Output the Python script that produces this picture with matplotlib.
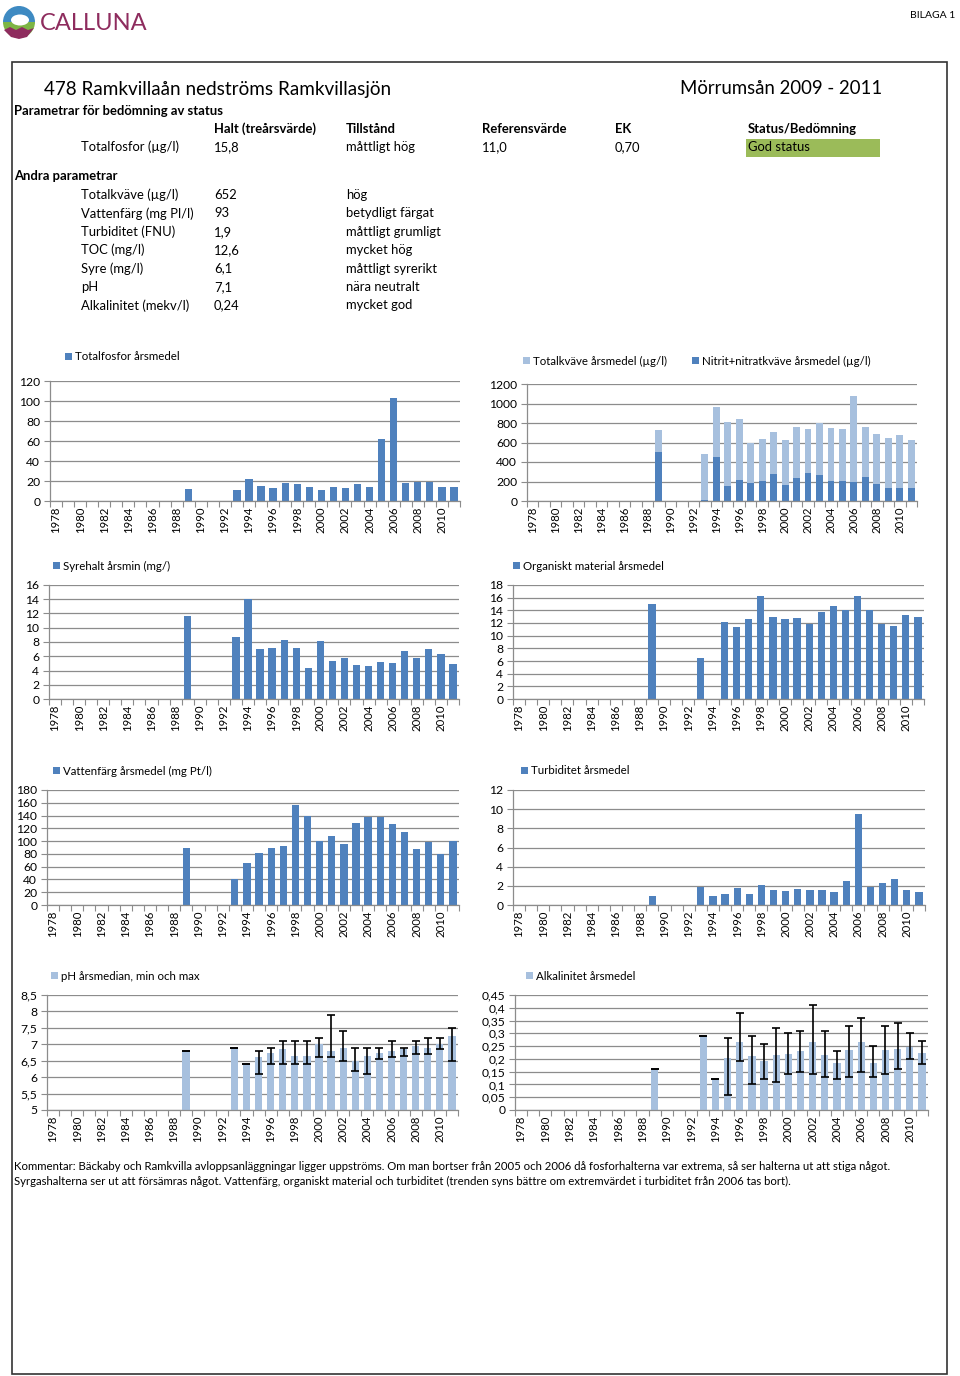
import matplotlib
matplotlib.use('Agg')
import matplotlib.pyplot as plt
import numpy as np
from matplotlib.patches import Rectangle, Wedge, Ellipse, Polygon

plt.rcParams['font.family'] = ['Lato', 'DejaVu Sans']

# ---------------- data ----------------
all_years = list(range(1978, 2012))
tick_years = all_years[::2]

years = [1989, 1993, 1994, 1995, 1996, 1997, 1998, 1999, 2000, 2001,
         2002, 2003, 2004, 2005, 2006, 2007, 2008, 2009, 2010, 2011]

totp = [12, 11, 22, 15, 13, 18, 17, 14, 11, 14.5,
        13, 17, 14.5, 62, 103, 18, 19.5, 19, 14.5, 14.5]

totn = [730, 480, 965, 810, 845, 600, 635, 710, 625, 760,
        740, 805, 750, 735, 1075, 760, 690, 645, 680, 625]
no3n = [500, 10, 450, 150, 220, 185, 205, 275, 160, 235,
        290, 270, 205, 205, 190, 245, 170, 135, 130, 135]

syre = [11.7, 8.7, 14.0, 7.0, 7.2, 8.3, 7.1, 4.3, 8.1, 5.4,
        5.8, 4.8, 4.6, 5.2, 5.0, 6.7, 5.7, 7.0, 6.3, 4.9]

org_years = [1989, 1993, 1995, 1996, 1997, 1998, 1999, 2000, 2001, 2002,
             2003, 2004, 2005, 2006, 2007, 2008, 2009, 2010, 2011]
org = [15.0, 6.5, 12.2, 11.3, 12.7, 16.3, 13.0, 12.7, 12.8, 11.9,
       13.7, 14.7, 14.0, 16.2, 14.0, 11.9, 11.5, 13.2, 13.0]

farg = [90, 40, 65, 82, 90, 93, 157, 140, 100, 108,
        96, 128, 138, 137, 127, 115, 88, 98, 80, 100]

turb = [0.9, 1.9, 0.9, 1.2, 1.8, 1.15, 2.1, 1.6, 1.5, 1.7,
        1.55, 1.55, 1.4, 2.5, 9.5, 1.85, 2.3, 2.75, 1.55, 1.35]

ph_med = [6.8, 6.9, 6.4, 6.6, 6.75, 6.85, 6.65, 6.65, 7.0, 6.8,
          6.9, 6.5, 6.65, 6.75, 6.8, 6.85, 6.95, 6.9, 7.0, 7.25]
ph_min = [6.8, 6.9, 6.4, 6.1, 6.4, 6.4, 6.4, 6.4, 6.6, 6.6,
          6.5, 6.2, 6.1, 6.55, 6.6, 6.65, 6.7, 6.7, 6.85, 6.5]
ph_max = [6.8, 6.9, 6.4, 6.8, 6.9, 7.1, 7.1, 7.1, 7.2, 7.9,
          7.4, 6.9, 6.9, 6.9, 7.1, 6.9, 7.1, 7.2, 7.2, 7.5]

alk_med = [0.16, 0.29, 0.12, 0.205, 0.265, 0.21, 0.19, 0.215, 0.22, 0.23,
           0.265, 0.215, 0.185, 0.235, 0.265, 0.185, 0.235, 0.24, 0.245, 0.225]
alk_min = [0.16, 0.29, 0.12, 0.06, 0.19, 0.10, 0.12, 0.11, 0.14, 0.15,
           0.14, 0.13, 0.12, 0.13, 0.15, 0.13, 0.14, 0.16, 0.20, 0.18]
alk_max = [0.16, 0.29, 0.12, 0.28, 0.38, 0.29, 0.26, 0.32, 0.30, 0.31,
           0.41, 0.31, 0.23, 0.33, 0.36, 0.25, 0.33, 0.34, 0.30, 0.27]

# table text
status_header = ["Halt (treårsvärde)", "Tillstånd", "Referensvärde", "EK", "Status/Bedömning"]
status_row = ["Totalfosfor (µg/l)", "15,8", "måttligt hög", "11,0", "0,70", "God status"]
other_params = ["Totalkväve (µg/l)", "Vattenfärg (mg Pl/l)", "Turbiditet (FNU)", "TOC (mg/l)",
                "Syre (mg/l)", "pH", "Alkalinitet (mekv/l)"]
other_values = ["652", "93", "1,9", "12,6", "6,1", "7,1", "0,24"]
other_states = ["hög", "betydligt färgat", "måttligt grumligt", "mycket hög",
                "måttligt syrerikt", "nära neutralt", "mycket god"]

comment1 = ("Kommentar: Bäckaby och Ramkvilla avloppsanläggningar ligger uppströms. Om man bortser från 2005 och 2006 "
            "då fosforhalterna var extrema, så ser halterna ut att stiga något.")
comment2 = ("Syrgashalterna ser ut att försämras något. Vattenfärg, organiskt material och turbiditet "
            "(trenden syns bättre om extremvärdet i turbiditet från 2006 tas bort).")

# ---------------- figure ----------------
W, H = 960, 1376
fig = plt.figure(figsize=(W / 100, H / 100), dpi=100)
bg = fig.add_axes([0, 0, 1, 1])
bg.set_xlim(0, W)
bg.set_ylim(H, 0)
bg.axis('off')

BLUE = '#4F81BD'
LIGHT = '#A7C0DE'
GRID = '#8C8C8C'
TS = 9.4  # table font size


def t(x, y, s, size=TS, weight='normal', ha='left', color='black'):
    bg.text(x, y, s, fontsize=size, fontweight=weight, ha=ha, va='center', color=color)


# logo
cx, cy, rr = 19, 22, 16
bg.add_patch(Wedge((cx, cy), rr, 180, 360, facecolor='#3E8AC2', edgecolor='none'))
bg.add_patch(Wedge((cx, cy), rr, 0, 180, facecolor='#7DB544', edgecolor='none'))
bg.add_patch(Ellipse((cx + 1, cy - 2), 18, 11, facecolor='white', edgecolor='none'))
bg.add_patch(Polygon([[cx - 15, cy + 8], [cx - 9, cy + 5], [cx - 3, cy + 8], [cx + 3, cy + 5],
                      [cx + 9, cy + 8], [cx + 15, cy + 6], [cx + 8, cy + 15], [cx, cy + 17],
                      [cx - 8, cy + 15]], closed=True, facecolor='#8E2C5E', edgecolor='none'))
t(40, 23, "CALLUNA", size=17, color='#8E2C5E')
t(955, 15, "BILAGA 1", size=7.5, ha='right')

# frame
bg.add_patch(Rectangle((12, 62), 935, 1312, fill=False, edgecolor='#333333', lw=1.2))

# titles
t(44, 89, "478 Ramkvillaån nedströms Ramkvillasjön", size=13.6)
t(882, 89, "Mörrumsån 2009 - 2011", size=13.4, ha='right')
t(14, 111, "Parametrar för bedömning av status", weight='bold')
hx = [214, 346, 482, 615, 748]
for x, s in zip(hx, status_header):
    t(x, 129, s, weight='bold')
bg.add_patch(Rectangle((746, 139), 134, 18, facecolor='#9BBB59', edgecolor='none'))
for x, s in zip([81] + hx, status_row):
    t(x, 147, s)
t(14, 176, "Andra parametrar", weight='bold')
for i, (p, v, s) in enumerate(zip(other_params, other_values, other_states)):
    y = 195 + i * 18.4
    t(81, y, p)
    t(214, y, v)
    t(346, y, s)

t(14, 1166, comment1, size=8.2)
t(14, 1181, comment2, size=8.2)


def legend_item(x, y, label, color):
    bg.add_patch(Rectangle((x, y - 4), 7, 7, facecolor=color, edgecolor='none'))
    t(x + 10, y, label, size=8.3)


def make_ax(l, r, top, bot, ymin, ymax, yticks, ylabels):
    ax = fig.add_axes([l / W, 1 - bot / H, (r - l) / W, (bot - top) / H])
    ax.set_xlim(-0.5, len(all_years) - 0.5)
    ax.set_ylim(ymin, ymax)
    ax.set_yticks(yticks)
    ax.set_yticklabels(ylabels, fontsize=8.7)
    ax.yaxis.grid(True, color=GRID, lw=0.9)
    ax.set_axisbelow(True)
    for s in ['top', 'right']:
        ax.spines[s].set_visible(False)
    for s in ['left', 'bottom']:
        ax.spines[s].set_color(GRID)
        ax.spines[s].set_linewidth(0.9)
    ax.set_xticks(np.arange(-0.5, len(all_years), 1))
    ax.tick_params(axis='x', which='major', length=4, color=GRID, labelbottom=False)
    ax.set_xticks([all_years.index(y) for y in tick_years], minor=True)
    ax.set_xticklabels([str(y) for y in tick_years], minor=True, rotation=90, fontsize=8.2)
    ax.tick_params(axis='x', which='minor', length=0, pad=4)
    ax.tick_params(axis='y', length=4, color=GRID, pad=3)
    ax.patch.set_alpha(0)
    return ax


def pos(yrs):
    return [all_years.index(y) for y in yrs]


BW = 0.6

# 1 Totalfosfor
ax = make_ax(50, 460, 381, 501, 0, 120, range(0, 121, 20), [str(v) for v in range(0, 121, 20)])
ax.bar(pos(years), totp, width=BW, color=BLUE)
legend_item(65, 357, "Totalfosfor årsmedel", BLUE)

# 2 Kväve
ax = make_ax(527, 917, 384, 501, 0, 1200, range(0, 1201, 200), [str(v) for v in range(0, 1201, 200)])
ax.bar(pos(years), totn, width=BW, color=LIGHT)
ax.bar(pos(years), no3n, width=BW, color=BLUE)
legend_item(523, 361, "Totalkväve årsmedel (µg/l)", LIGHT)
legend_item(692, 361, "Nitrit+nitratkväve årsmedel (µg/l)", BLUE)

# 3 Syre
ax = make_ax(49, 459, 585, 699, 0, 16, range(0, 17, 2), [str(v) for v in range(0, 17, 2)])
ax.bar(pos(years), syre, width=BW, color=BLUE)
legend_item(53, 566, "Syrehalt årsmin (mg/)", BLUE)

# 4 Organiskt
ax = make_ax(513, 924, 585, 699, 0, 18, range(0, 19, 2), [str(v) for v in range(0, 19, 2)])
ax.bar(pos(org_years), org, width=BW, color=BLUE)
legend_item(513, 566, "Organiskt material årsmedel", BLUE)

# 5 Vattenfärg
ax = make_ax(47, 459, 790, 905, 0, 180, range(0, 181, 20), [str(v) for v in range(0, 181, 20)])
ax.bar(pos(years), farg, width=BW, color=BLUE)
legend_item(53, 771, "Vattenfärg årsmedel (mg Pt/l)", BLUE)

# 6 Turbiditet
ax = make_ax(513, 925, 790, 905, 0, 12, range(0, 13, 2), [str(v) for v in range(0, 13, 2)])
ax.bar(pos(years), turb, width=BW, color=BLUE)
legend_item(521, 771, "Turbiditet årsmedel", BLUE)

# 7 pH
ph_ticks = [5, 5.5, 6, 6.5, 7, 7.5, 8, 8.5]
ph_labels = ['5', '5,5', '6', '6,5', '7', '7,5', '8', '8,5']
ax = make_ax(47, 458, 995, 1110, 5, 8.5, ph_ticks, ph_labels)
ax.bar(pos(years), ph_med, width=BW, color=LIGHT)
ax.errorbar(pos(years), ph_med,
            yerr=[np.array(ph_med) - np.array(ph_min), np.array(ph_max) - np.array(ph_med)],
            fmt='none', ecolor='black', elinewidth=1.2, capsize=3, capthick=1.2)
legend_item(51, 976, "pH årsmedian, min och max", LIGHT)

# 8 Alkalinitet
alk_ticks = [0, 0.05, 0.1, 0.15, 0.2, 0.25, 0.3, 0.35, 0.4, 0.45]
alk_labels = ['0', '0,05', '0,1', '0,15', '0,2', '0,25', '0,3', '0,35', '0,4', '0,45']
ax = make_ax(515, 928, 995, 1110, 0, 0.45, alk_ticks, alk_labels)
ax.bar(pos(years), alk_med, width=BW, color=LIGHT)
ax.errorbar(pos(years), alk_med,
            yerr=[np.array(alk_med) - np.array(alk_min), np.array(alk_max) - np.array(alk_med)],
            fmt='none', ecolor='black', elinewidth=1.2, capsize=3, capthick=1.2)
legend_item(526, 976, "Alkalinitet årsmedel", LIGHT)

fig.savefig('out.png', dpi=100)
